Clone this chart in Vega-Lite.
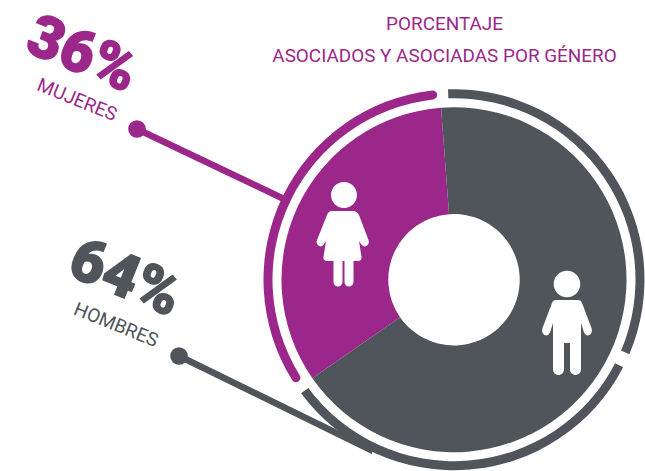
{"$schema":"https://vega.github.io/schema/vega-lite/v6.json","width":645,"height":471,"autosize":{"type":"fit","contains":"padding"},"padding":0,"background":"white","view":{"stroke":null},
"encoding":{"x":{"type":"quantitative","scale":{"domain":[0,645]},"axis":null},"y":{"type":"quantitative","scale":{"domain":[471,0]},"axis":null}},
"layer":[
{"data":{"values":[{"genero":"Mujeres","inicio":235.2,"fin":355.7},{"genero":"Hombres","inicio":355.7,"fin":595.2}]},
"mark":{"type":"arc","innerRadius":65.7,"outerRadius":172.5},
"encoding":{"x":{"datum":454},"y":{"datum":279.7},"theta":{"field":"inicio","type":"quantitative","stack":null,"scale":{"domain":[0,720],"range":[0,12.56637]}},"theta2":{"field":"fin"},"color":{"field":"genero","type":"nominal","legend":null,"scale":{"domain":["Mujeres","Hombres"],"range":["#9C278A","#4F555A"]}}}},
{"data":{"values":[{"genero":"Hombres","inicio":358.2,"fin":473},{"genero":"Hombres","inicio":477.4,"fin":593.4}]},
"mark":{"type":"arc","innerRadius":181.5,"outerRadius":190.5,"color":"#4F555A"},
"encoding":{"x":{"datum":454},"y":{"datum":279.7},"theta":{"field":"inicio","type":"quantitative","stack":null,"scale":{"domain":[0,720],"range":[0,12.56637]}},"theta2":{"field":"fin"}}},
{"data":{"values":[{"genero":"Mujeres","inicio":236.8,"fin":354.8}]},
"mark":{"type":"arc","innerRadius":181.5,"outerRadius":190.5,"cornerRadius":4.5,"color":"#9C278A"},
"encoding":{"x":{"datum":454},"y":{"datum":279.7},"theta":{"field":"inicio","type":"quantitative","stack":null,"scale":{"domain":[0,720],"range":[0,12.56637]}},"theta2":{"field":"fin"}}},
{"data":{"values":[{"px":137,"py":129},{"px":284,"py":199}]},"mark":{"type":"line","color":"#9C278A","strokeWidth":6.5},"encoding":{"x":{"field":"px"},"y":{"field":"py"}}},
{"data":{"values":[{"px":179,"py":356},{"px":373,"py":451}]},"mark":{"type":"line","color":"#4F555A","strokeWidth":6.5},"encoding":{"x":{"field":"px"},"y":{"field":"py"}}},
{"data":{"values":[{"genero":"Mujeres"}]},"mark":{"type":"point","filled":true,"size":310,"opacity":1,"color":"#9C278A"},"encoding":{"x":{"datum":137},"y":{"datum":129}}},
{"data":{"values":[{"genero":"Hombres"}]},"mark":{"type":"point","filled":true,"size":310,"opacity":1,"color":"#4F555A"},"encoding":{"x":{"datum":179},"y":{"datum":356}}},
{"data":{"values":[{"icono":"Mujeres"}]},"mark":{"type":"point","filled":true,"opacity":1,"color":"white","size":4,"shape":"M-13,-45 a13,13 0 1,0 26,0 a13,13 0 1,0 -26,0 Z M-12,-29 L9,-29 Q13,-29 15,-25 L24.5,0 Q26,4 22.5,6 Q19,7.5 17,4 L15,1 L17.5,17 Q18,21 14,21 L9.5,21 L9.5,42 A4.5,4.5 0 0 1 0.5,42 L0.5,21 L-1.5,21 L-1.5,42 A4.5,4.5 0 0 1 -10.5,42 L-10.5,21 L-17,21 Q-21,21 -20.5,17 L-18,1 L-20,4 Q-22,7.5 -25,6 Q-28.5,4 -27,0 L-17,-25 Q-15.5,-29 -12,-29 Z"},"encoding":{"x":{"datum":344},"y":{"datum":240}}},
{"data":{"values":[{"icono":"Hombres"}]},"mark":{"type":"point","filled":true,"opacity":1,"color":"white","size":4,"shape":"M-13.3,-46 a13.3,13.3 0 1,0 26.6,0 a13.3,13.3 0 1,0 -26.6,0 Z M-11,-30 L11,-30 Q14,-30 15,-27 L24.5,-2 Q26,3 22.5,5 Q19,6.5 17,2.5 L14,-7 L14,39.5 A5.5,5.5 0 0 1 3,39.5 L3,13 L-3,13 L-3,39.5 A5.5,5.5 0 0 1 -14,39.5 L-14,-7 L-17,2.5 Q-19,6.5 -22.5,5 Q-26,3 -24.5,-2 L-15,-27 Q-14,-30 -11,-30 Z"},"encoding":{"x":{"datum":567},"y":{"datum":330}}},
{"data":{"values":[{"t":"PORCENTAJE"}]},"mark":{"type":"text","font":"Roboto","fontSize":18.9,"color":"#9C278A","align":"center","baseline":"middle"},"encoding":{"text":{"field":"t"},"x":{"datum":444.5},"y":{"datum":24}}},
{"data":{"values":[{"t":"ASOCIADOS Y ASOCIADAS POR GÉNERO"}]},"mark":{"type":"text","font":"Roboto","fontSize":18.9,"color":"#9C278A","align":"center","baseline":"middle"},"encoding":{"text":{"field":"t"},"x":{"datum":444.5},"y":{"datum":56}}},
{"data":{"values":[{"t":"36%"}]},"mark":{"type":"text","font":"Roboto","fontWeight":900,"fontSize":59,"angle":22,"color":"#9C278A","stroke":"#9C278A","strokeWidth":1.5,"align":"center","baseline":"middle"},"encoding":{"text":{"field":"t"},"x":{"datum":82},"y":{"datum":55}}},
{"data":{"values":[{"t":"MUJERES"}]},"mark":{"type":"text","font":"Roboto","fontSize":19,"angle":22,"color":"#9C278A","align":"center","baseline":"middle"},"encoding":{"text":{"field":"t"},"x":{"datum":77},"y":{"datum":100}}},
{"data":{"values":[{"t":"64%"}]},"mark":{"type":"text","font":"Roboto","fontWeight":900,"fontSize":60,"angle":22,"color":"#4F555A","stroke":"#4F555A","strokeWidth":1.5,"align":"center","baseline":"middle"},"encoding":{"text":{"field":"t"},"x":{"datum":125},"y":{"datum":279}}},
{"data":{"values":[{"t":"HOMBRES"}]},"mark":{"type":"text","font":"Roboto","fontSize":19,"angle":22,"color":"#4F555A","align":"center","baseline":"middle"},"encoding":{"text":{"field":"t"},"x":{"datum":116},"y":{"datum":325}}}
]}
